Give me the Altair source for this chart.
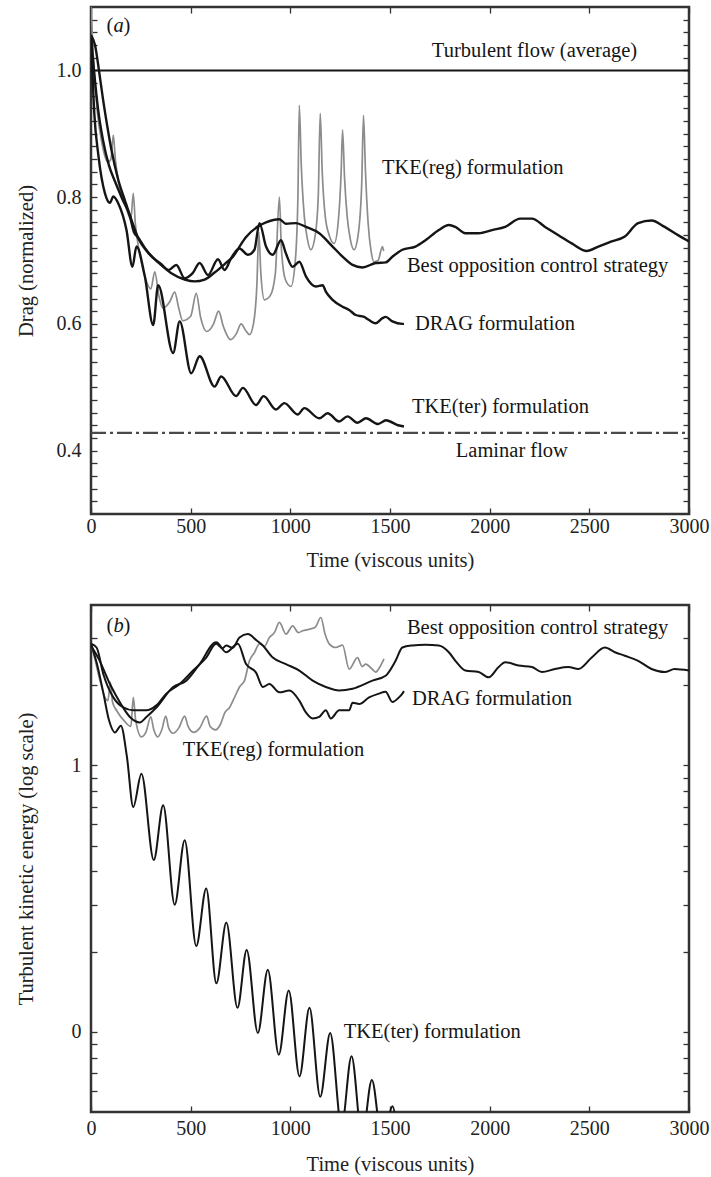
import altair as alt
import pandas as pd

SERIF = "'Liberation Serif', 'Times New Roman', 'DejaVu Serif', serif"
INK = "#151515"
GREY = "#8c8c8c"
TICK = 6
TEXT_SIZE = 20.5

# ---------------- (a) normalised drag ----------------
drag_opposition = [
    (0, 1.055), (20, 1.04), (40, 1.00), (60, 0.955), (80, 0.915), (103, 0.874),
    (137, 0.827), (170, 0.795), (203, 0.764), (237, 0.735), (287, 0.712),
    (337, 0.697), (403, 0.680), (470, 0.670), (520, 0.667), (570, 0.670),
    (620, 0.681), (680, 0.697), (712, 0.706), (745, 0.722), (778, 0.737),
    (845, 0.755), (878, 0.760), (945, 0.765), (978, 0.758), (1028, 0.759),
    (1078, 0.753), (1145, 0.743), (1212, 0.722), (1262, 0.706), (1312, 0.693),
    (1362, 0.689), (1428, 0.696), (1478, 0.697), (1512, 0.706), (1562, 0.717),
    (1628, 0.722), (1678, 0.732), (1745, 0.748), (1795, 0.756), (1828, 0.753),
    (1878, 0.743), (1945, 0.743), (2012, 0.748), (2078, 0.753), (2153, 0.766),
    (2212, 0.766), (2278, 0.753), (2345, 0.740), (2412, 0.727), (2487, 0.715),
    (2545, 0.722), (2612, 0.730), (2678, 0.738), (2745, 0.759), (2812, 0.763),
    (2878, 0.753), (2945, 0.740), (3000, 0.730),
]
drag_drag = [
    (0, 1.055), (15, 1.00), (35, 0.94), (60, 0.89), (90, 0.85), (120, 0.825),
    (160, 0.795), (195, 0.77), (215, 0.745), (240, 0.735), (270, 0.72),
    (310, 0.705), (350, 0.695), (390, 0.685), (428, 0.693), (470, 0.672),
    (510, 0.680), (545, 0.696), (587, 0.677), (637, 0.702), (670, 0.685),
    (705, 0.705), (745, 0.719), (787, 0.709), (820, 0.717), (845, 0.759),
    (878, 0.722), (912, 0.709), (953, 0.732), (978, 0.711), (1012, 0.690),
    (1045, 0.698), (1078, 0.675), (1128, 0.659), (1162, 0.661), (1178, 0.651),
    (1212, 0.638), (1262, 0.627), (1295, 0.622), (1328, 0.614), (1370, 0.611),
    (1395, 0.606), (1428, 0.601), (1462, 0.609), (1478, 0.611), (1512, 0.604),
    (1562, 0.600), (1570, 0.600),
]
drag_tke_ter = [
    (0, 1.055), (17, 0.93), (37, 0.866), (70, 0.806), (95, 0.791), (112, 0.801),
    (137, 0.790), (178, 0.748), (208, 0.690), (228, 0.722), (270, 0.675),
    (312, 0.598), (337, 0.661), (412, 0.554), (445, 0.604), (503, 0.522),
    (545, 0.549), (620, 0.501), (653, 0.517), (728, 0.486), (762, 0.499),
    (828, 0.472), (866, 0.486), (928, 0.465), (970, 0.475), (1037, 0.457),
    (1070, 0.467), (1145, 0.451), (1187, 0.459), (1245, 0.446), (1287, 0.454),
    (1337, 0.444), (1380, 0.451), (1440, 0.442), (1480, 0.448), (1540, 0.440),
    (1570, 0.438),
]
drag_tke_reg = [
    (0, 1.10), (12, 1.02), (30, 0.94), (55, 0.885), (85, 0.855), (100, 0.86),
    (112, 0.898), (122, 0.86), (140, 0.82), (170, 0.79), (200, 0.765),
    (212, 0.806), (222, 0.76), (245, 0.71), (275, 0.67), (300, 0.655),
    (320, 0.682), (340, 0.645), (360, 0.625), (395, 0.635), (420, 0.650),
    (440, 0.625), (460, 0.605), (500, 0.612), (528, 0.648), (550, 0.610),
    (580, 0.588), (615, 0.600), (640, 0.620), (665, 0.595), (700, 0.575),
    (730, 0.585), (753, 0.600), (775, 0.590), (795, 0.583), (815, 0.600),
    (832, 0.660), (842, 0.745), (852, 0.680), (870, 0.638), (900, 0.645),
    (925, 0.680), (945, 0.800), (955, 0.720), (975, 0.670), (1003, 0.659),
    (1025, 0.700), (1038, 0.800), (1045, 0.945), (1055, 0.850), (1070, 0.770),
    (1085, 0.735), (1103, 0.717), (1125, 0.740), (1140, 0.800), (1150, 0.932),
    (1160, 0.840), (1175, 0.770), (1195, 0.740), (1220, 0.727), (1240, 0.760),
    (1255, 0.840), (1262, 0.906), (1272, 0.830), (1285, 0.770), (1300, 0.735),
    (1320, 0.717), (1340, 0.740), (1358, 0.820), (1367, 0.929), (1377, 0.840),
    (1390, 0.760), (1405, 0.715), (1420, 0.698), (1440, 0.700), (1462, 0.722),
    (1468, 0.715),
]
turbulent_level = 1.0
laminar_level = 0.428

drag_labels = ["Turbulent flow (average)", "TKE(reg) formulation",
               "Best opposition control strategy", "DRAG formulation",
               "TKE(ter) formulation", "Laminar flow"]
drag_label_t = [1710, 1460, 1585, 1625, 1610, 1830]
drag_label_v = [1.031, 0.846, 0.691, 0.600, 0.469, 0.400]
drag_tag = (78, 1.07)

# ---------------- (b) turbulent kinetic energy ----------------
tke_opposition = [
    (0, 28.6), (28, 27.7), (62, 22.0), (112, 18.0), (162, 16.5), (212, 16.1),
    (278, 16.1), (328, 16.8), (378, 18.6), (445, 20.2), (512, 22.7), (578, 25.4),
    (628, 28.6), (660, 27.5), (678, 28.2), (710, 27.6), (745, 30.2), (787, 31.1),
    (830, 29.5), (862, 28.2), (912, 25.4), (978, 24.0), (1045, 22.7), (1112, 20.8),
    (1178, 19.7), (1245, 19.1), (1312, 19.4), (1412, 20.8), (1478, 21.7),
    (1528, 24.7), (1562, 27.7), (1612, 28.2), (1678, 28.4), (1745, 28.2),
    (1795, 26.6), (1828, 24.7), (1878, 22.7), (1945, 22.4), (1995, 21.4),
    (2045, 23.4), (2078, 24.4), (2145, 23.7), (2212, 23.4), (2262, 22.4),
    (2328, 23.0), (2395, 23.4), (2445, 23.0), (2512, 25.4), (2578, 27.7),
    (2628, 26.6), (2678, 25.8), (2745, 24.7), (2812, 23.0), (2878, 22.4),
    (2928, 23.0), (3000, 22.7),
]
tke_drag = [
    (0, 28.1), (40, 25.0), (95, 20.2), (150, 17.0), (195, 15.2), (245, 14.5),
    (278, 15.2), (328, 16.5), (412, 19.7), (478, 20.8), (545, 24.0), (628, 29.0),
    (678, 26.6), (737, 28.6), (778, 24.0), (828, 22.3), (862, 19.7), (895, 20.2),
    (945, 18.8), (995, 19.1), (1045, 17.5), (1078, 15.8), (1112, 15.0),
    (1145, 15.2), (1178, 16.1), (1203, 15.0), (1245, 16.1), (1295, 16.1),
    (1312, 17.2), (1345, 17.0), (1395, 18.0), (1445, 18.6), (1478, 18.9),
    (1512, 17.3), (1545, 18.0), (1562, 18.6), (1570, 19.0),
]
tke_tke_ter = [
    (0, 28.6), (30, 24.0), (60, 19.0), (90, 14.8), (120, 13.3), (150, 14.1),
    (180, 10.8), (212, 6.98), (253, 9.31), (315, 4.41), (362, 7.08), (420, 3.0),
    (470, 5.24), (528, 2.1), (578, 3.45), (629, 1.52), (679, 2.57), (735, 1.23),
    (781, 2.03), (837, 0.99), (887, 1.71), (942, 0.82), (992, 1.43), (1046, 0.68),
    (1096, 1.23), (1150, 0.57), (1200, 0.99), (1257, 0.44), (1307, 0.81),
    (1360, 0.40), (1409, 0.66), (1462, 0.38), (1513, 0.525), (1540, 0.42),
    (1570, 0.35),
]
tke_tke_reg = [
    (0, 28.6), (20, 25.0), (37, 22.0), (55, 19.5), (70, 18.0), (85, 17.5),
    (97, 20.5), (108, 17.3), (130, 16.0), (170, 14.6), (200, 14.0), (212, 18.0),
    (224, 14.8), (253, 12.8), (275, 13.3), (300, 15.2), (315, 13.6), (335, 12.8),
    (355, 13.6), (375, 15.3), (390, 13.8), (412, 13.2), (440, 13.8), (470, 15.3),
    (487, 14.0), (515, 13.3), (545, 13.8), (580, 15.3), (598, 14.0), (625, 13.6),
    (650, 14.3), (672, 15.8), (695, 16.5), (720, 18.0), (745, 19.7), (770, 20.8),
    (795, 24.7), (820, 26.5), (845, 28.6), (870, 28.0), (895, 30.2), (920, 31.5),
    (945, 34.4), (978, 31.1), (1012, 33.4), (1040, 31.5), (1062, 32.0),
    (1100, 32.5), (1125, 33.0), (1153, 35.9), (1175, 31.0), (1195, 28.6),
    (1228, 27.7), (1262, 28.3), (1295, 23.0), (1337, 25.4), (1360, 23.5),
    (1378, 24.0), (1410, 23.0), (1428, 22.4), (1453, 23.7), (1470, 25.1),
]

tke_labels = ["Best opposition control strategy", "DRAG formulation",
              "TKE(reg) formulation", "TKE(ter) formulation"]
tke_label_t = [1585, 1610, 460, 1268]
tke_label_v = [32.9, 17.7, 11.4, 1.0]
tke_tag = (78, 33.5)

# ---------------- axes ----------------
time_ticks = [0, 500, 1000, 1500, 2000, 2500, 3000]
drag_ticks = [round(0.32 + 0.02 * i, 2) for i in range(39)]
tke_ticks = [0.6, 0.7, 0.8, 0.9, 1, 2, 3, 4, 5, 6, 7, 8, 9, 10, 20, 30]

x_scale = alt.Scale(domain=[0, 3000], nice=False, zero=False)
drag_scale = alt.Scale(domain=[0.3, 1.1], nice=False, zero=False)
tke_scale = alt.Scale(type="log", domain=[0.5, 40], nice=False)


def series_frame(points, name):
    return pd.DataFrame(points, columns=["t", "v"]).assign(series=name)


def panel(grey, blacks, yscale, ytitle, yticks, ylabel_expr, labels, tag,
          height, width_black, label_pad, title_pad, y_title_pad, rules=()):
    x_main = alt.Axis(orient="bottom", values=time_ticks, format="d",
                      offset=-TICK, tickSize=TICK, labelPadding=label_pad,
                      labelFlush=False, labelOverlap=False,
                      title="Time (viscous units)", titlePadding=title_pad)
    x_top = alt.Axis(orient="top", values=time_ticks, offset=-TICK,
                     tickSize=TICK, labels=False, title=None)
    y_main = alt.Axis(orient="left", values=yticks, labelExpr=ylabel_expr,
                      offset=-TICK, tickSize=TICK, labelPadding=10,
                      labelOverlap=False, labelFlush=False,
                      title=ytitle, titlePadding=y_title_pad)
    y_right = alt.Axis(orient="right", values=yticks, offset=-TICK,
                       tickSize=TICK, labels=False, title=None)

    grey_layer = alt.Chart(grey).mark_line(
        color=GREY, strokeWidth=1.7, interpolate="monotone", clip=True
    ).encode(
        x=alt.X("t:Q", scale=x_scale, axis=x_main),
        y=alt.Y("v:Q", scale=yscale, axis=y_main),
    )
    black_layer = alt.Chart(blacks).mark_line(
        color=INK, strokeWidth=width_black, interpolate="monotone", clip=True
    ).encode(
        x=alt.X("t:Q", scale=x_scale, axis=x_top),
        y=alt.Y("v:Q", scale=yscale, axis=y_right),
        detail="series:N",
    )
    layers = [grey_layer]
    for frame, style in rules:
        layers.append(
            alt.Chart(frame).mark_rule(**style).encode(
                x=alt.X("t0:Q", scale=x_scale, axis=None),
                x2="t1:Q",
                y=alt.Y("v:Q", scale=yscale, axis=None),
            )
        )
    layers.append(black_layer)

    text_frame = pd.DataFrame({"label": labels[0], "t": labels[1], "v": labels[2]})
    layers.append(
        alt.Chart(text_frame).mark_text(
            align="left", baseline="middle", font=SERIF, fontSize=TEXT_SIZE, color=INK
        ).encode(
            x=alt.X("t:Q", scale=x_scale, axis=None),
            y=alt.Y("v:Q", scale=yscale, axis=None),
            text="label:N",
        )
    )
    tag_frame = pd.DataFrame({"t": [tag[0]], "v": [tag[1]]})
    for glyph, dx, style in [("(", 0, "normal"), (tag[2], 7, "italic"), (")", 17, "normal")]:
        layers.append(
            alt.Chart(tag_frame).mark_text(
                text=glyph, dx=dx, align="left", baseline="middle", font=SERIF,
                fontSize=TEXT_SIZE, fontStyle=style, color=INK
            ).encode(
                x=alt.X("t:Q", scale=x_scale, axis=None),
                y=alt.Y("v:Q", scale=yscale, axis=None),
            )
        )
    return alt.layer(*layers).resolve_axis(x="independent", y="independent").properties(
        width=598, height=height
    )


drag_grey = series_frame(drag_tke_reg, "TKE(reg) formulation")
drag_black = pd.concat([
    series_frame(drag_opposition, "Best opposition control strategy"),
    series_frame(drag_drag, "DRAG formulation"),
    series_frame(drag_tke_ter, "TKE(ter) formulation"),
])
turbulent_frame = pd.DataFrame({"t0": [0], "t1": [3000], "v": [turbulent_level]})
laminar_frame = pd.DataFrame({"t0": [0], "t1": [3000], "v": [laminar_level]})

top = panel(
    drag_grey, drag_black, drag_scale, "Drag (normalized)", drag_ticks,
    "abs(datum.value * 5 - round(datum.value * 5)) < 0.001 ? format(datum.value, '.1f') : ''",
    (drag_labels, drag_label_t, drag_label_v), (drag_tag[0], drag_tag[1], "a"),
    507, 2.4, 2, 14, 20,
    rules=[
        (turbulent_frame, {"color": INK, "strokeWidth": 2}),
        (laminar_frame, {"color": "#4a4a4a", "strokeWidth": 2.2, "strokeDash": [15, 4, 3, 4]}),
    ],
)

tke_grey = series_frame(tke_tke_reg, "TKE(reg) formulation")
tke_black = pd.concat([
    series_frame(tke_opposition, "Best opposition control strategy"),
    series_frame(tke_drag, "DRAG formulation"),
    series_frame(tke_tke_ter, "TKE(ter) formulation"),
])

bottom = panel(
    tke_grey, tke_black, tke_scale, "Turbulent kinetic energy (log scale)", tke_ticks,
    "datum.value == 1 ? '0' : (datum.value == 10 ? '1' : '')",
    (tke_labels, tke_label_t, tke_label_v), (tke_tag[0], tke_tag[1], "b"),
    507, 2.0, 6, 16, 35,
)

chart = alt.vconcat(top, bottom, spacing=91, bounds="flush").properties(
    padding={"left": 14, "top": 5, "right": 0, "bottom": 0},
    background="white",
).configure_view(
    stroke="#333333", strokeWidth=2.5
).configure_axis(
    labelFont=SERIF, labelFontSize=20, labelColor="#222222",
    titleFont=SERIF, titleFontSize=TEXT_SIZE, titleFontWeight="normal", titleColor="#222222",
    tickColor="#333333", tickWidth=1.3, domain=False, grid=False,
)

chart.save("out.html", embed_options={"renderer": "svg", "actions": False})
